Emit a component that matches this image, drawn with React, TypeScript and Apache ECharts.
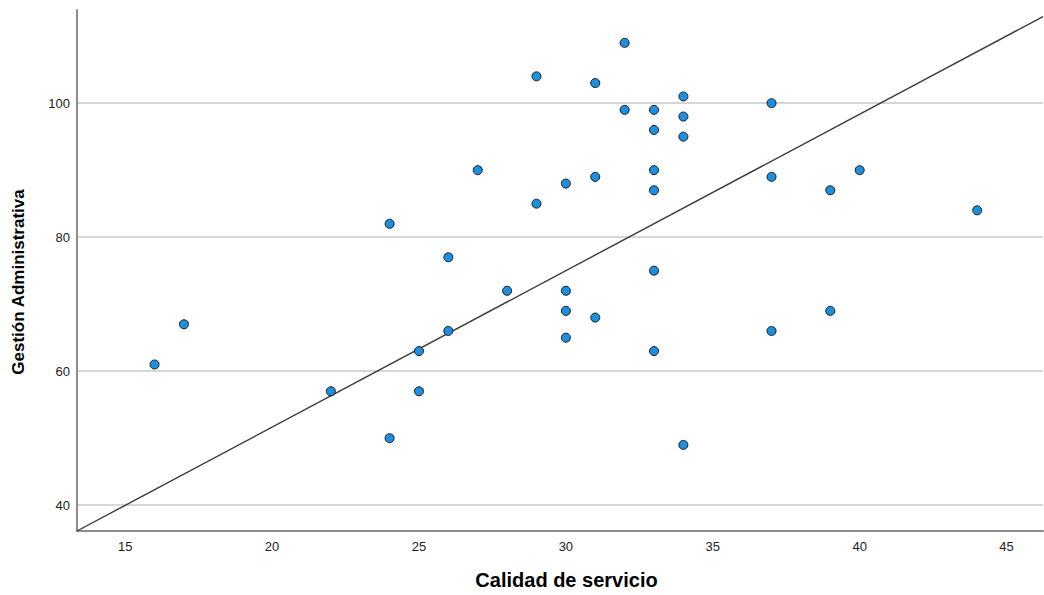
import React, { useEffect, useRef } from "react";
import * as echarts from "echarts";

const calidadServicio = [16, 17, 22, 24, 24, 25, 25, 26, 26, 27, 28, 29, 29, 30, 30, 30, 30, 31, 31, 31, 32, 32, 33, 33, 33, 33, 33, 33, 34, 34, 34, 34, 37, 37, 37, 39, 39, 40, 44];
const gestionAdministrativa = [61, 67, 57, 82, 50, 63, 57, 77, 66, 90, 72, 104, 85, 88, 72, 69, 65, 103, 89, 68, 109, 99, 99, 96, 90, 87, 75, 63, 101, 98, 95, 49, 100, 89, 66, 87, 69, 90, 84];
const fitLineX = [13.36, 46.24];
const fitLineY = [36.15, 112.92];
const xTicks = [15, 20, 25, 30, 35, 40, 45];
const yTicks = [40, 60, 80, 100];
const xRange = [13.36, 46.24];
const yRange = [36.15, 113.9];

const FONT = "'Liberation Sans', Arial, sans-serif";

export default function App() {
  const ref = useRef<HTMLDivElement>(null);
  useEffect(() => {
    if (!ref.current) return;
    const chart = echarts.init(ref.current, null, { renderer: "svg" });
    const points = calidadServicio.map((x, i) => [x, gestionAdministrativa[i]]);
    const fit = fitLineX.map((x, i) => [x, fitLineY[i]]);
    chart.setOption({
      animation: false,
      backgroundColor: "#ffffff",
      grid: { left: 77, right: 1, top: 10, bottom: 60, containLabel: false },
      xAxis: {
        type: "value",
        min: xRange[0],
        max: xRange[1],
        name: "Calidad de servicio",
        nameLocation: "middle",
        nameGap: 39,
        nameTextStyle: { fontFamily: FONT, fontSize: 20, fontWeight: "bold", color: "#000", padding: [0, 0, 0, 13] },
        axisLine: { show: true, lineStyle: { color: "#8c8c8c", width: 2 } },
        axisTick: { show: false, customValues: xTicks },
        axisLabel: { customValues: xTicks, fontFamily: FONT, fontSize: 13, color: "#222", margin: 9 },
        splitLine: { show: false },
      },
      yAxis: {
        type: "value",
        min: yRange[0],
        max: yRange[1],
        name: "Gestión Administrativa",
        nameLocation: "middle",
        nameGap: 50,
        nameTextStyle: { fontFamily: FONT, fontSize: 17, fontWeight: "bold", color: "#000", padding: [0, 23, 0, 0] },
        axisLine: { show: true, lineStyle: { color: "#8c8c8c", width: 2 } },
        axisTick: { show: false, customValues: yTicks },
        axisLabel: { customValues: yTicks, fontFamily: FONT, fontSize: 13, color: "#222", margin: 7 },
        splitLine: { show: true, lineStyle: { color: "#c8c8c8", width: 1.5 } },
      },
      series: [
        {
          type: "line",
          data: fit,
          showSymbol: false,
          symbol: "none",
          lineStyle: { color: "#3a3a3a", width: 1.4 },
          z: 2,
          silent: true,
        },
        {
          type: "scatter",
          data: points,
          symbol: "circle",
          symbolSize: 9,
          itemStyle: { color: "#1b8fe0", borderColor: "#1a1a1a", borderWidth: 1, opacity: 1 },
          z: 3,
        },
      ],
    });
    return () => chart.dispose();
  }, []);
  return <div ref={ref} style={{ position: "absolute", left: 0, top: 0, width: 1044, height: 595 }} />;
}
